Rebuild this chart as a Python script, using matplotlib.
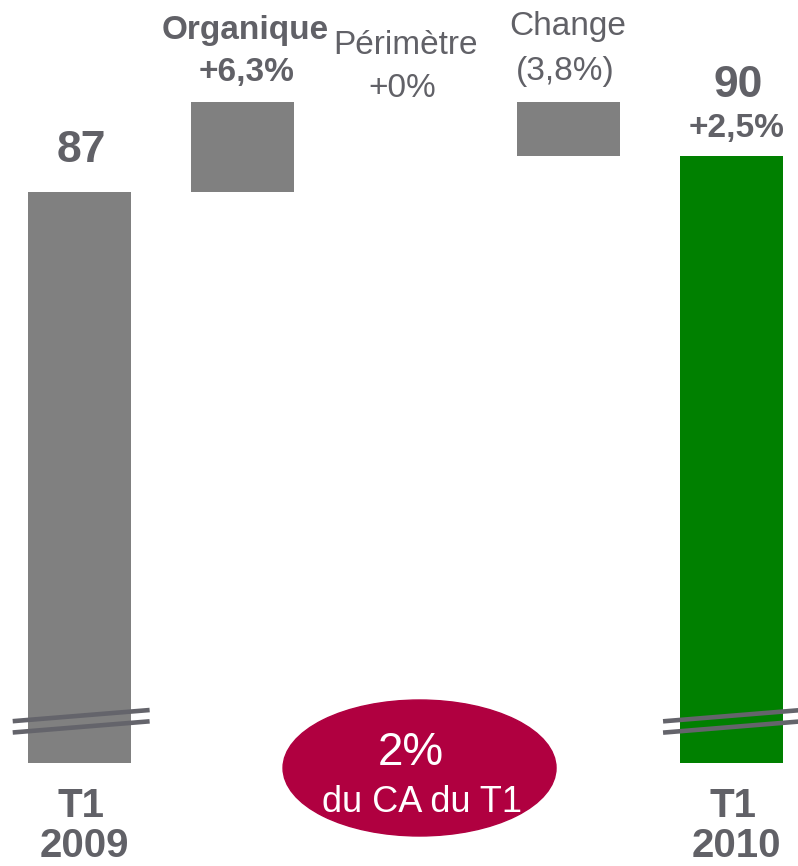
import numpy as np
import matplotlib.pyplot as plt
from matplotlib.patches import Ellipse

plt.rcParams['font.family'] = ['Liberation Sans', 'DejaVu Sans']

# Data (bar heights follow the drawn, broken scale)
start_value = 87
end_value = 90
steps = [7.5, 0.0, -4.5]          # organique, perimetre, change as drawn
step_names = ['Organique', 'Périmètre', 'Change']
step_labels = ['+6,3%', '+0%', '(3,8%)']
total_growth = '+2,5%'
period_labels = ['T1\n2009', 'T1\n2010']
floor_value = 39                  # where the broken bars are cut off
bubble_big = '2%'
bubble_small = 'du CA du T1'

txt = '#616167'
grey = '#808080'
green = '#008000'
crimson = '#B00040'

fig = plt.figure(figsize=(7.98, 8.66), dpi=100)
ax = fig.add_axes([0, 0, 1, 1])
ax.set_xlim(-0.488, 4.408)
ax.set_ylim(30.32, 103.11)
ax.axis('off')

k = 866 / (103.11 - 30.32)   # px per unit
def ypx(py):
    return 103.11 - py / k

w = 0.632
# totals
ax.bar(0, start_value - floor_value, bottom=floor_value, width=w, color=grey)
ax.bar(4, end_value - floor_value, bottom=floor_value, width=w, color=green)

# steps
level = start_value
for i, s in enumerate(steps):
    if s != 0:
        ax.bar(i + 1, abs(s), bottom=min(level, level + s), width=w, color=grey)
    level += s

# axis break marks
for xc, x0, x1 in [(0, -0.41, 0.43), (4, -0.42, 0.55)]:
    for yc in [42.95, 42.0]:
        xs = np.array([x0, x1])
        ys = yc + xs * (0.924 / 0.828)
        ax.plot(xc + xs, ys, color='#64646b', lw=3.3, solid_capstyle='butt', zorder=3)

# labels on totals
ax.text(0.01, ypx(162), f'{start_value}', ha='center', va='baseline',
        fontsize=32, fontweight='bold', color=txt)
ax.text(4.04, ypx(97), f'{end_value}', ha='center', va='baseline',
        fontsize=32, fontweight='bold', color=txt)
ax.text(4.03, ypx(137), total_growth, ha='center', va='baseline',
        fontsize=24, fontweight='bold', color=txt)

# labels on steps
name_pos = [(1.015, 39, 81, 'bold'), (1.997, 54, 97, 'normal'), (2.997, 35, 80, 'normal')]
for (x, yn, yl, fw), name, lab in zip(name_pos, step_names, step_labels):
    ax.text(x, ypx(yn), name, ha='center', va='baseline', fontsize=24,
            fontweight=fw, color=txt)
    ax.text(x + (0.01 if fw == 'bold' else -0.015), ypx(yl), lab, ha='center',
            va='baseline', fontsize=24, fontweight=fw, color=txt)

# period labels
for x, lab in zip([0, 4], period_labels):
    top, bot = lab.split('\n')
    ax.text(x + 0.01, ypx(817), top, ha='center', va='baseline',
            fontsize=29, fontweight='bold', color=txt)
    ax.text(x + 0.03, ypx(865), bot, ha='center', va='bottom',
            fontsize=29, fontweight='bold', color=txt)

# bubble
ax.add_patch(Ellipse((2.086, ypx(768)), 273 / 163, 136 / k, color=crimson, zorder=4))
ax.text(2.035, ypx(765), bubble_big, ha='center', va='baseline', fontsize=33,
        color='white', zorder=5)
ax.text(2.1, ypx(812), bubble_small, ha='center', va='baseline', fontsize=26,
        color='white', zorder=5)

fig.savefig('out.png', dpi=100)
